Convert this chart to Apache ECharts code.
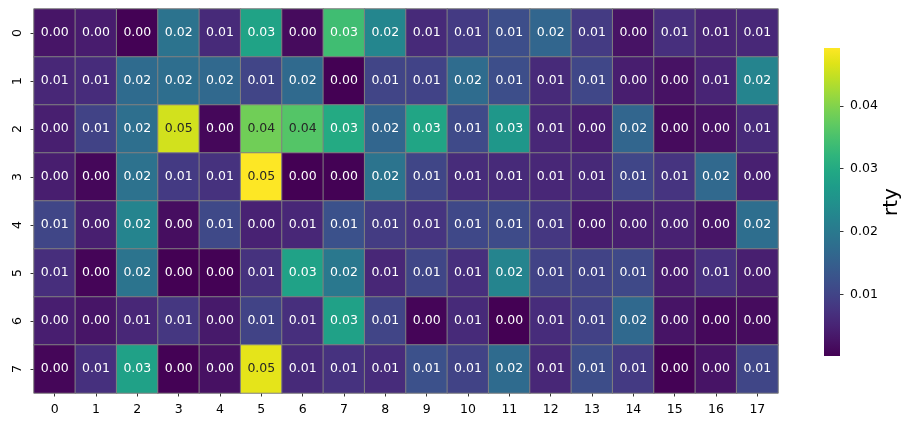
<!DOCTYPE html>
<html>
<head>
<meta charset="utf-8">
<script src="https://cdn.jsdelivr.net/npm/echarts@6/dist/echarts.min.js"></script>
<style>
html,body{margin:0;padding:0;background:#fff;}
#chart{width:915px;height:428px;}
</style>
</head>
<body>
<div id="chart"></div>
<script>
const xLabels = ['0','1','2','3','4','5','6','7','8','9','10','11','12','13','14','15','16','17'];
const yLabels = ['0','1','2','3','4','5','6','7'];
const row0 = [0.0030, 0.0040, 0.0003, 0.0187, 0.0060, 0.0285, 0.0015, 0.0340, 0.0226, 0.0060, 0.0085, 0.0118, 0.0162, 0.0086, 0.0027, 0.0068, 0.0052, 0.0057];
const row1 = [0.0055, 0.0064, 0.0172, 0.0177, 0.0167, 0.0101, 0.0170, 0.0002, 0.0102, 0.0099, 0.0174, 0.0118, 0.0060, 0.0105, 0.0042, 0.0025, 0.0051, 0.0222];
const row2 = [0.0044, 0.0098, 0.0180, 0.0458, 0.0010, 0.0385, 0.0360, 0.0300, 0.0163, 0.0290, 0.0110, 0.0260, 0.0055, 0.0043, 0.0162, 0.0015, 0.0025, 0.0060];
const row3 = [0.0042, 0.0010, 0.0185, 0.0085, 0.0072, 0.0492, 0.0002, 0.0004, 0.0190, 0.0103, 0.0063, 0.0060, 0.0056, 0.0058, 0.0104, 0.0075, 0.0167, 0.0045];
const row4 = [0.0103, 0.0044, 0.0222, 0.0020, 0.0108, 0.0048, 0.0055, 0.0123, 0.0087, 0.0075, 0.0107, 0.0112, 0.0080, 0.0038, 0.0044, 0.0047, 0.0030, 0.0178];
const row5 = [0.0066, 0.0008, 0.0190, 0.0002, 0.0003, 0.0072, 0.0283, 0.0197, 0.0056, 0.0103, 0.0068, 0.0222, 0.0098, 0.0098, 0.0108, 0.0040, 0.0070, 0.0044];
const row6 = [0.0043, 0.0030, 0.0056, 0.0080, 0.0036, 0.0098, 0.0068, 0.0282, 0.0102, 0.0008, 0.0060, 0.0002, 0.0064, 0.0095, 0.0168, 0.0028, 0.0012, 0.0017];
const row7 = [0.0009, 0.0070, 0.0282, 0.0003, 0.0024, 0.0472, 0.0060, 0.0073, 0.0064, 0.0122, 0.0098, 0.0172, 0.0056, 0.0115, 0.0085, 0.0003, 0.0028, 0.0103];
const colorbarTicks = [0.01, 0.02, 0.03, 0.04];
const colorbarLabel = 'rty';

const rows = [row0, row1, row2, row3, row4, row5, row6, row7];

const viridis = ['#440154','#471365','#482475','#463480','#414487','#3b528b','#355f8d','#2f6c8e','#2a788e','#25848e','#21918c','#1e9c89','#22a884','#2fb47c','#44bf70','#5ec962','#7ad151','#9bd93c','#bddf26','#dfe318','#fde725'];

let vmin = Infinity, vmax = -Infinity;
rows.forEach(r => r.forEach(v => { if (v < vmin) vmin = v; if (v > vmax) vmax = v; }));

function hexToRgb(h){ return [parseInt(h.substr(1,2),16), parseInt(h.substr(3,2),16), parseInt(h.substr(5,2),16)]; }
function colorAt(t){
  t = Math.max(0, Math.min(1, t));
  const p = t * (viridis.length - 1);
  const i = Math.min(viridis.length - 2, Math.floor(p));
  const f = p - i;
  const a = hexToRgb(viridis[i]), b = hexToRgb(viridis[i+1]);
  return a.map((c, k) => c + (b[k] - c) * f);
}
function lum(rgb){
  const lin = rgb.map(c => { c = c / 255; return c <= 0.03928 ? c / 12.92 : Math.pow((c + 0.055) / 1.055, 2.4); });
  return 0.2126 * lin[0] + 0.7152 * lin[1] + 0.0722 * lin[2];
}

const heatData = [];
rows.forEach((r, y) => r.forEach((v, x) => {
  const l = lum(colorAt((v - vmin) / (vmax - vmin)));
  heatData.push({ value: [x, y, v], label: { color: l > 0.408 ? '#262626' : '#ffffff' } });
}));

const FONT = 'DejaVu Sans';
const chart = echarts.init(document.getElementById('chart'), null, { renderer: 'canvas' });
chart.setOption({
  animation: false,
  backgroundColor: '#ffffff',
  textStyle: { fontFamily: FONT },
  grid: [
    { left: 34, top: 9, width: 744, height: 384 },
    { left: 824, top: 48, width: 16, height: 308 }
  ],
  xAxis: [
    {
      type: 'category', gridIndex: 0, data: xLabels, position: 'bottom',
      splitArea: { show: false },
      axisLine: { show: false },
      axisTick: { show: true, alignWithLabel: true, length: 3.5, lineStyle: { color: '#000', width: 0.8 } },
      axisLabel: { color: '#000', fontSize: 12.5, fontFamily: FONT, margin: 10 }
    },
    { type: 'category', gridIndex: 1, data: [''], show: false }
  ],
  yAxis: [
    {
      type: 'category', gridIndex: 0, data: yLabels, inverse: true,
      splitArea: { show: false },
      axisLine: { show: false },
      axisTick: { show: true, alignWithLabel: true, length: 3.5, lineStyle: { color: '#000', width: 0.8 } },
      axisLabel: { color: '#000', fontSize: 12.5, fontFamily: FONT, rotate: 90, margin: 10 }
    },
    {
      type: 'value', gridIndex: 1, min: vmin, max: vmax, position: 'right',
      splitLine: { show: false },
      axisLine: { show: false },
      axisTick: { show: true, length: 3.5, customValues: colorbarTicks, lineStyle: { color: '#000', width: 0.8 } },
      axisLabel: { show: true, customValues: colorbarTicks, color: '#000', fontSize: 12.5, fontFamily: FONT, margin: 10,
        formatter: v => Number(v).toFixed(2) },
      name: colorbarLabel, nameLocation: 'middle', nameRotate: 90, nameGap: 37,
      nameTextStyle: { fontSize: 20, color: '#000', fontFamily: FONT }
    }
  ],
  visualMap: {
    type: 'continuous', show: false, seriesIndex: 0, dimension: 2,
    min: vmin, max: vmax, inRange: { color: viridis }
  },
  series: [
    {
      type: 'heatmap', xAxisIndex: 0, yAxisIndex: 0, data: heatData,
      itemStyle: { borderColor: '#808080', borderWidth: 1 },
      label: { show: true, fontSize: 12.5, fontFamily: FONT, formatter: p => p.value[2].toFixed(2) },
      emphasis: { disabled: true }
    },
    {
      type: 'bar', xAxisIndex: 1, yAxisIndex: 1, data: [vmax], barWidth: '100%', clip: true,
      silent: true,
      itemStyle: {
        color: new echarts.graphic.LinearGradient(0, 0, 0, 1,
          viridis.slice().reverse().map((c, i, arr) => ({ offset: i / (arr.length - 1), color: c })))
      }
    }
  ]
});
</script>
</body>
</html>
